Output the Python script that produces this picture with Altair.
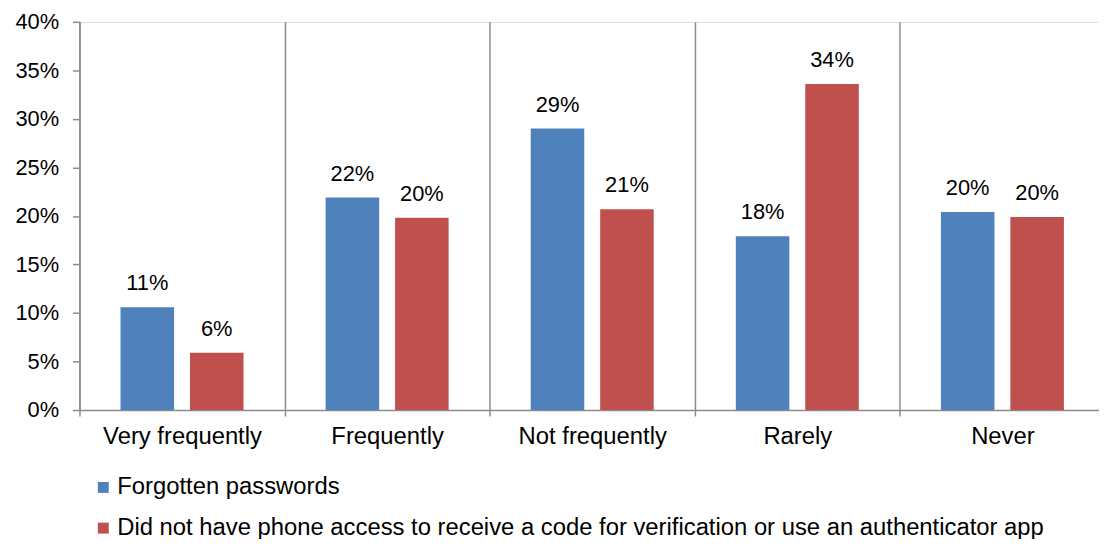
import altair as alt
import pandas as pd

categories = ["Very frequently", "Frequently", "Not frequently", "Rarely", "Never"]
series = [
    "Forgotten passwords",
    "Did not have phone access to receive a code for verification or use an authenticator app",
]
forgotten = [0.106, 0.219, 0.290, 0.179, 0.204]
no_phone = [0.059, 0.198, 0.207, 0.336, 0.199]
colors = ["#4F81BD", "#C0504D"]
y_ticks = [0, 0.05, 0.10, 0.15, 0.20, 0.25, 0.30, 0.35, 0.40]

rows = []
for c, a, b in zip(categories, forgotten, no_phone):
    rows.append({"category": c, "series": series[0], "value": a})
    rows.append({"category": c, "series": series[1], "value": b})
df = pd.DataFrame(rows)

FONT = "Liberation Sans"
GRAY = "#8c8c8c"

x = alt.X(
    "category:N",
    sort=categories,
    scale=alt.Scale(range=[0, 1033], paddingInner=0, paddingOuter=0),
    axis=alt.Axis(
        title=None, labelAngle=0, tickBand="extent", grid=True,
        gridColor=GRAY, gridWidth=1.5, domainColor=GRAY, domainWidth=1.5,
        tickColor=GRAY, tickWidth=1.5, tickSize=6, labelFontSize=24,
        labelColor="black", labelPadding=9, labelFont=FONT,
    ),
)
xoff = alt.XOffset(
    "series:N", sort=series,
    scale=alt.Scale(domain=series, paddingInner=0.229, paddingOuter=0.591),
)
y = alt.Y(
    "value:Q",
    scale=alt.Scale(domain=[0, 0.4]),
    axis=alt.Axis(
        title=None, format=".0%", values=y_ticks, grid=False,
        domainColor=GRAY, domainWidth=1.5, tickColor=GRAY, tickWidth=1.5,
        tickSize=7, labelFontSize=22, labelColor="black", labelPadding=14,
        labelFont=FONT,
    ),
)

bars = alt.Chart(df).mark_bar().encode(
    x=x, xOffset=xoff, y=y,
    color=alt.Color(
        "series:N", sort=series,
        scale=alt.Scale(domain=series, range=colors),
        legend=alt.Legend(
            title=None, orient="none", legendX=12, legendY=457,
            direction="vertical", symbolType="square", symbolSize=121,
            labelFontSize=24, labelFont=FONT, labelColor="black",
            rowPadding=17, labelLimit=1100, symbolStrokeWidth=0, labelOffset=2,
        ),
    ),
)

labels = alt.Chart(df).mark_text(
    baseline="alphabetic", dy=-17, fontSize=22, font=FONT, color="black"
).encode(
    x=x, xOffset=xoff, y=y,
    text=alt.Text("value:Q", format=".0%"),
)

chart = alt.layer(bars, labels).properties(
    width=1027, height=391,
    autosize=alt.AutoSizeParams(type="none"),
    padding={"left": 72, "top": 12, "right": 0, "bottom": 128},
).configure_view(stroke=None).configure(font=FONT)

chart.save("out.html", embed_options={"renderer": "svg", "actions": False})
